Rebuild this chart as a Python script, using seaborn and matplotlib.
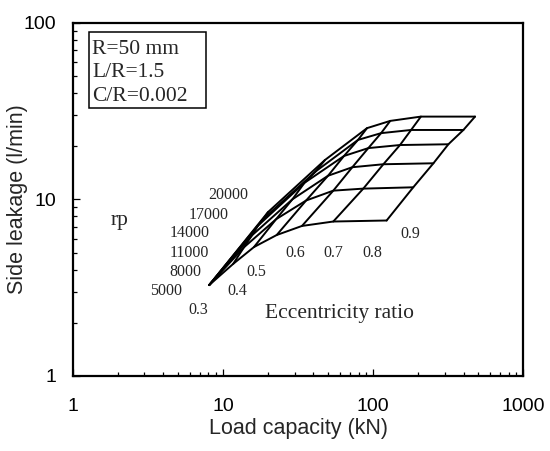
import matplotlib
matplotlib.use("Agg")
import matplotlib.pyplot as plt
import matplotlib.ticker as mticker
from matplotlib.patches import Rectangle
import pandas as pd
import seaborn as sns

rp_values = [5000, 8000, 11000, 14000, 17000, 20000]
ecc_values = [0.3, 0.4, 0.5, 0.6, 0.7, 0.8, 0.9]

# load capacity (kN) for eccentricity 0.3 .. 0.9, one list per rp
load_5000 = [8.1, 11.7, 16.1, 22.8, 33.6, 54.3, 123]
load_8000 = [8.1, 13.8, 22.6, 35.8, 54.3, 86.0, 185]
load_11000 = [8.1, 15.6, 29.0, 50.1, 72.7, 117, 252]
load_14000 = [8.1, 17.1, 34.9, 64.0, 92.9, 151, 317]
load_17000 = [8.1, 18.6, 41.5, 79.3, 113, 179, 399]
load_20000 = [8.1, 20.0, 47.8, 91.1, 130, 208, 477]

# side leakage (l/min)
leak_5000 = [3.27, 4.31, 5.37, 6.28, 7.07, 7.49, 7.59]
leak_8000 = [3.27, 5.35, 7.72, 9.85, 11.2, 11.5, 11.7]
leak_11000 = [3.27, 6.25, 10.0, 13.6, 15.2, 15.8, 16.0]
leak_14000 = [3.27, 7.09, 12.4, 17.6, 19.5, 20.3, 20.5]
leak_17000 = [3.27, 7.76, 14.4, 21.7, 23.7, 24.7, 24.7]
leak_20000 = [3.27, 8.48, 16.7, 25.3, 27.8, 29.4, 29.4]

loads = [load_5000, load_8000, load_11000, load_14000, load_17000, load_20000]
leaks = [leak_5000, leak_8000, leak_11000, leak_14000, leak_17000, leak_20000]

records = []
for rp, ld, lk in zip(rp_values, loads, leaks):
    for e, w, q in zip(ecc_values, ld, lk):
        records.append({"rp": rp, "ecc": e, "load": w, "leak": q})
df = pd.DataFrame(records)

sns.set_theme(style="ticks")
serif = ["Liberation Serif", "DejaVu Serif"]
plt.rcParams["font.family"] = ["Liberation Sans", "DejaVu Sans"]

fig = plt.figure(figsize=(5.5, 4.51), dpi=100)
ax = fig.add_axes([0.1322, 0.1663, 0.8193, 0.7834])

# lines of constant rp
sns.lineplot(data=df, x="load", y="leak", units="rp", estimator=None, sort=False,
             color="black", linewidth=1.4, ax=ax, legend=False)
# lines of constant eccentricity ratio
sns.lineplot(data=df.sort_values(["ecc", "rp"]), x="load", y="leak", units="ecc",
             estimator=None, sort=False, color="black", linewidth=1.4, ax=ax, legend=False)

ax.set_xscale("log")
ax.set_yscale("log")
ax.set_xlim(1, 1000)
ax.set_ylim(1, 100)
fmt = mticker.FuncFormatter(lambda v, p: f"{v:g}")
ax.xaxis.set_major_formatter(fmt)
ax.yaxis.set_major_formatter(fmt)
ax.xaxis.set_minor_formatter(mticker.NullFormatter())
ax.yaxis.set_minor_formatter(mticker.NullFormatter())

ax.tick_params(which="both", direction="in", colors="black", width=0.9,
               labelsize=14, top=False, right=False)
ax.tick_params(which="major", length=5)
ax.tick_params(which="minor", length=3)
ax.tick_params(axis="x", pad=16)
ax.tick_params(axis="y", pad=12)
for sp in ax.spines.values():
    sp.set_linewidth(1.6)
    sp.set_color("black")
    sp.set_visible(True)

ax.set_xlabel("Load capacity (kN)", fontsize=15.5)
ax.set_ylabel("Side leakage (l/min)", fontsize=15.5)
ax.xaxis.label.set_va("center")
ax.yaxis.label.set_va("center")
ax.xaxis.set_label_coords(0.5, -0.149)
ax.yaxis.set_label_coords(-0.122, 0.5)

# info box
ax.add_patch(Rectangle((0.036, 0.7572), 0.2605, 0.2177, transform=ax.transAxes,
                       fill=False, edgecolor="black", linewidth=1.1))
for txt, y in zip(["R=50 mm", "L/R=1.5", "C/R=0.002"], [0.9255, 0.8599, 0.7917]):
    ax.text(0.0438, y, txt, transform=ax.transAxes, family=serif, fontsize=15.5,
            ha="left", va="center")

rp_pos = [(0.2071, 0.2414), (0.2492, 0.2947), (0.2594, 0.3487),
          (0.2594, 0.4039), (0.3025, 0.4554), (0.345, 0.5121)]
for rp, (x, y) in zip(rp_values, rp_pos):
    ax.text(x, y, str(rp), transform=ax.transAxes, family=serif, fontsize=11.5,
            ha="center", va="center")

ecc_pos = [(0.2792, 0.1871), (0.3646, 0.2414), (0.4075, 0.2947), (0.4945, 0.3487),
           (0.5781, 0.3487), (0.6642, 0.3487), (0.7503, 0.4022)]
for e, (x, y) in zip(ecc_values, ecc_pos):
    ax.text(x, y, f"{e:.1f}", transform=ax.transAxes, family=serif, fontsize=11.5,
            ha="center", va="center")

ax.text(0.1047, 0.4396, "rp", transform=ax.transAxes, family=serif, fontsize=15.5,
        ha="center", va="center")
ax.text(0.5923, 0.1778, "Eccentricity ratio", transform=ax.transAxes, family=serif,
        fontsize=15.5, ha="center", va="center")

fig.savefig("out.png", dpi=100)
plt.close(fig)
